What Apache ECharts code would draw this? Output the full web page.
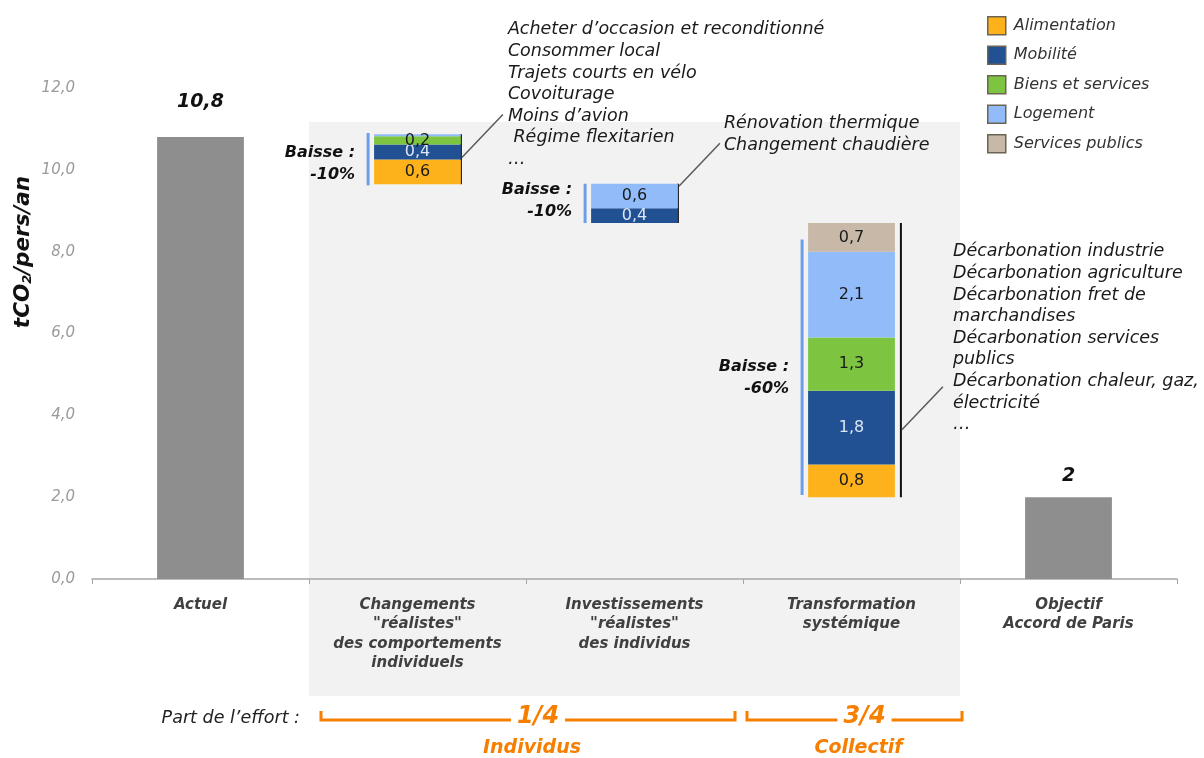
<!DOCTYPE html>
<html>
<head>
<meta charset="utf-8">
<script src="https://cdn.jsdelivr.net/npm/echarts@6/dist/echarts.min.js"></script>
<style>html,body{margin:0;padding:0;background:#fff;}#c{width:1204px;height:758px;}</style>
</head>
<body>
<div id="c"></div>
<script>
// ---- data ----
const categories = ['Actuel', 'Changements\n"réalistes"\ndes comportements\nindividuels', 'Investissements\n"réalistes"\ndes individus', 'Transformation\nsystémique', 'Objectif\nAccord de Paris'];
const baseValues = ['-', 9.65, 8.7, 2.0, '-'];
const totalValues = [10.8, '-', '-', '-', 2];
const alimentation = ['-', 0.6, '-', 0.8, '-'];
const mobilite = ['-', 0.37, 0.36, 1.8, '-'];
const biensServices = ['-', 0.2, '-', 1.3, '-'];
const logement = ['-', 0.05, 0.6, 2.1, '-'];
const servicesPublics = ['-', '-', '-', 0.7, '-'];
const yTicks = [0, 2, 4, 6, 8, 10, 12];
const baisseLabels = ['Baisse :\n-10%', 'Baisse :\n-10%', 'Baisse :\n-60%'];
const actionsIndividus = ['Acheter d’occasion et reconditionné', 'Consommer local', 'Trajets courts en vélo', 'Covoiturage', 'Moins d’avion', ' Régime flexitarien', '…'];
const actionsInvest = ['Rénovation thermique', 'Changement chaudière'];
const actionsSyst = ['Décarbonation industrie', 'Décarbonation agriculture', 'Décarbonation fret de', 'marchandises', 'Décarbonation services', 'publics', 'Décarbonation chaleur, gaz,', 'électricité', '…'];

const FF = '"DejaVu Sans", sans-serif';
const fmt = v => (typeof v === 'number' ? v.toFixed(1).replace('.', ',') : '');
const segLabel = (color) => ({
  show: true, position: 'inside', color: color, fontFamily: FF, fontSize: 16,
  formatter: p => (p.value >= 0.1 ? fmt(p.value) : '')
});

const chart = echarts.init(document.getElementById('c'));
const option = {
  animation: false,
  backgroundColor: '#ffffff',
  grid: { left: 92, right: 27, top: 88, bottom: 179 },
  legend: {
    orient: 'vertical', left: 982, top: 11, itemWidth: 18, itemHeight: 18, itemGap: 10, icon: 'rect',
    itemStyle: { borderColor: '#6b6455', borderWidth: 1.5 },
    textStyle: { fontFamily: FF, fontStyle: 'italic', fontSize: 16, color: '#333', padding: [0, 0, 0, 3] },
    data: ['Alimentation', 'Mobilité', 'Biens et services', 'Logement', 'Services publics']
  },
  xAxis: {
    type: 'category', data: categories,
    axisLine: { lineStyle: { color: '#a6a6a6', width: 1.5 } },
    axisTick: { show: true, length: 5, lineStyle: { color: '#a6a6a6' } },
    axisLabel: { interval: 0, margin: 16, fontFamily: FF, fontStyle: 'italic', fontWeight: 'bold', fontSize: 15, color: '#404040', lineHeight: 19.5 }
  },
  yAxis: {
    type: 'value', min: 0, max: 12, interval: 2,
    axisLine: { show: false }, axisTick: { show: false }, splitLine: { show: false },
    axisLabel: { margin: 17, fontFamily: FF, fontStyle: 'italic', fontSize: 15, color: '#9a9a9a', formatter: v => fmt(v) }
  },
  series: [
    { name: 'base', type: 'bar', stack: 'w', barWidth: '40%', silent: true, itemStyle: { color: 'transparent' }, data: baseValues },
    { name: 'total', type: 'bar', stack: 'w', itemStyle: { color: '#8e8e8e' },
      label: { show: true, position: 'top', fontFamily: FF, fontStyle: 'italic', fontWeight: 'bold', fontSize: 19, color: '#111', formatter: p => fmt(p.value).replace(',0', '') },
      data: totalValues.map((v, i) => ({ value: v, label: { distance: i === 0 ? 26 : 12 } })) },
    { name: 'Alimentation', type: 'bar', stack: 'w', itemStyle: { color: '#fdb21b' }, label: segLabel('#1a1a1a'), data: alimentation },
    { name: 'Mobilité', type: 'bar', stack: 'w', itemStyle: { color: '#215192' }, label: segLabel('#dce6f6'), data: mobilite },
    { name: 'Biens et services', type: 'bar', stack: 'w', itemStyle: { color: '#7dc541' }, label: segLabel('#1a1a1a'), data: biensServices },
    { name: 'Logement', type: 'bar', stack: 'w', itemStyle: { color: '#92bcf9' }, label: segLabel('#1a1a1a'), data: logement },
    { name: 'Services publics', type: 'bar', stack: 'w', itemStyle: { color: '#c7b8a7' }, label: segLabel('#1a1a1a'), data: servicesPublics }
  ]
};
chart.setOption(option);

// ---- annotations, positioned through the axes ----
const P = (c, v) => chart.convertToPixel({ gridIndex: 0 }, [c, v]);
const band = P(1, 0)[0] - P(0, 0)[0];
const half = band * 0.4 / 2;
const axisY = P(0, 0)[1];
const g = [];

// background panel
const bgL = P(1, 0)[0] - band / 2, bgR = P(3, 0)[0] + band / 2, bgT = P(1, 11.17)[1];
g.push({ type: 'rect', z: -10, shape: { x: bgL, y: bgT, width: bgR - bgL, height: axisY + 117 - bgT }, style: { fill: '#f2f2f2' } });

// per-stack decorations
const stacks = [
  { c: 1, lo: 9.62, hi: 10.9, blo: 9.65, bhi: 10.87, rOff: 0, lead: 10.3, baisse: 10.15, text: actionsIndividus, tdx: 5, tTop: 19 },
  { c: 2, lo: 8.7, hi: 9.66, blo: 8.7, bhi: 9.66, rOff: 0, lead: 9.6, baisse: 9.24, text: actionsInvest, tdx: 4, tTop: 113 },
  { c: 3, lo: 2.05, hi: 8.3, blo: 2.0, bhi: 8.7, rOff: 6, lead: 3.65, baisse: 4.91, text: actionsSyst, tdx: 10, tTop: 241 }
];
stacks.forEach((s, i) => {
  const cx = P(s.c, 0)[0];
  const xl = cx - half - 6;
  g.push({ type: 'line', shape: { x1: xl, y1: P(s.c, s.lo)[1], x2: xl, y2: P(s.c, s.hi)[1] }, style: { stroke: '#6d9eeb', lineWidth: 3 } });
  const xr = cx + half + s.rOff;
  g.push({ type: 'line', shape: { x1: xr, y1: P(s.c, s.blo)[1], x2: xr, y2: P(s.c, s.bhi)[1] }, style: { stroke: '#111', lineWidth: 2 } });
  const ly = P(s.c, s.lead)[1];
  g.push({ type: 'line', shape: { x1: xr + 1, y1: ly, x2: xr + 42, y2: ly - 43 }, style: { stroke: '#5a5a5a', lineWidth: 1.5 } });
  g.push({ type: 'text', x: xr + 42 + s.tdx, y: s.tTop, style: { text: s.text.join('\n'), fontFamily: FF, fontStyle: 'italic', fontSize: 17.5, fill: '#1a1a1a', lineHeight: 21.6, align: 'left', verticalAlign: 'top' } });
  g.push({ type: 'text', x: xl - 13, y: P(s.c, s.baisse)[1], style: { text: baisseLabels[i], fontFamily: FF, fontStyle: 'italic', fontWeight: 'bold', fontSize: 16, fill: '#111', lineHeight: 22, align: 'right', verticalAlign: 'middle' } });
});

// y axis title
g.push({ type: 'text', x: 21, y: 252, rotation: Math.PI / 2, style: {
  text: '{b|tCO}{s|2}{b|/pers/an}', align: 'center', verticalAlign: 'middle',
  rich: {
    b: { fontFamily: FF, fontStyle: 'italic', fontWeight: 'bold', fontSize: 21.5, fill: '#111', lineHeight: 27, verticalAlign: 'bottom' },
    s: { fontFamily: FF, fontStyle: 'italic', fontWeight: 'bold', fontSize: 13, fill: '#111', lineHeight: 13, verticalAlign: 'bottom' }
  } } });

// effort brackets
const orange = '#f77f00';
const by = axisY + 141;
g.push({ type: 'text', x: 300, y: by - 2, style: { text: 'Part de l’effort :', fontFamily: FF, fontStyle: 'italic', fontSize: 17.5, fill: '#222', align: 'right', verticalAlign: 'middle' } });
const brackets = [
  { x1: bgL + 12, x2: P(2, 0)[0] + band / 2 - 8, t: '1/4', sub: 'Individus' },
  { x1: P(3, 0)[0] - band / 2 + 4, x2: bgR + 2, t: '3/4', sub: 'Collectif' }
];
brackets.forEach(b => {
  g.push({ type: 'polyline', shape: { points: [[b.x1, by - 9], [b.x1, by], [b.x2, by], [b.x2, by - 9]] }, style: { stroke: orange, lineWidth: 3, fill: null } });
  const mx = (b.x1 + b.x2) / 2;
  g.push({ type: 'text', x: mx + 10, y: by - 3, style: { text: b.t, fontFamily: FF, fontStyle: 'italic', fontWeight: 'bold', fontSize: 24, fill: orange, align: 'center', verticalAlign: 'middle', backgroundColor: '#fff', padding: [4, 6, 2, 6] } });
  g.push({ type: 'text', x: mx + 4, y: by + 28, style: { text: b.sub, fontFamily: FF, fontStyle: 'italic', fontWeight: 'bold', fontSize: 19, fill: orange, align: 'center', verticalAlign: 'middle' } });
});

chart.setOption({ graphic: g });
</script>
</body>
</html>
